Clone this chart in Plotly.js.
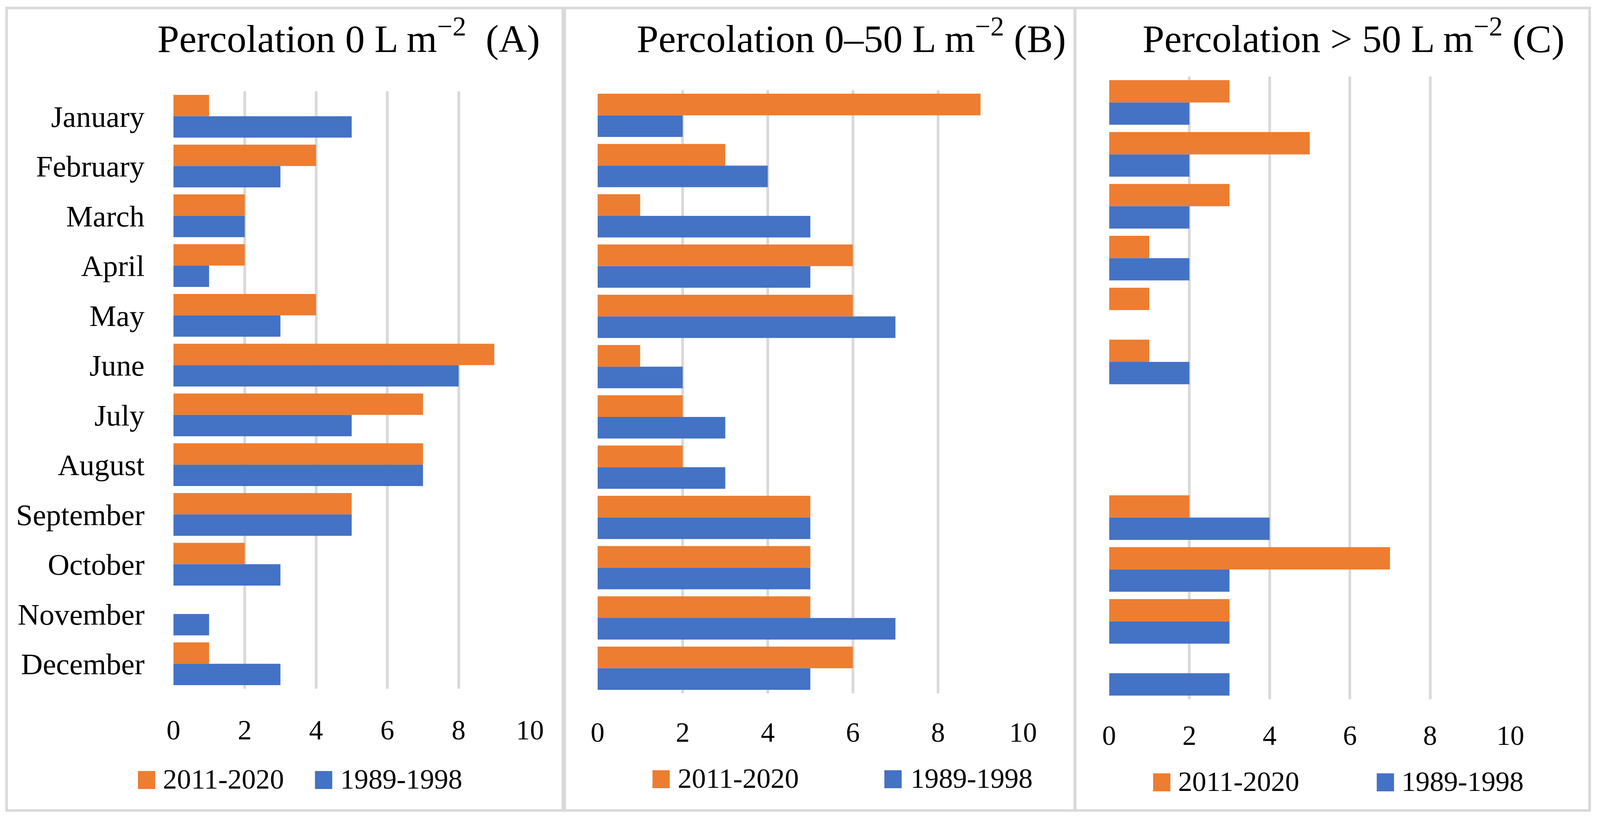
<!DOCTYPE html>
<html>
<head>
<meta charset="utf-8">
<script src="https://cdn.plot.ly/plotly-3.0.1.min.js"></script>
<style>html,body{margin:0;padding:0;background:#fff;overflow:hidden;}#chart{position:absolute;left:0;top:0;}</style>
</head>
<body>
<div id="chart"></div>
<script>
// ---- data ----
const months = ['January','February','March','April','May','June','July','August','September','October','November','December'];
const seriesNames = ['2011-2020', '1989-1998'];
const seriesColors = ['#ED7D31', '#4472C4'];
const a2011 = [1, 4, 2, 2, 4, 9, 7, 7, 5, 2, 0, 1];
const a1989 = [5, 3, 2, 1, 3, 8, 5, 7, 5, 3, 1, 3];
const b2011 = [9, 3, 1, 6, 6, 1, 2, 2, 5, 5, 5, 6];
const b1989 = [2, 4, 5, 5, 7, 2, 3, 3, 5, 5, 7, 5];
const c2011 = [3, 5, 3, 1, 1, 1, 0, 0, 2, 7, 3, 0];
const c1989 = [2, 2, 2, 2, 0, 2, 0, 0, 4, 3, 3, 3];
const xTicks = [0, 2, 4, 6, 8, 10];
const panelTitles = [
  'Percolation 0 L m<sup>\u22122</sup>  (A)',
  'Percolation 0\u201350 L m<sup>\u22122</sup> (B)',
  'Percolation > 50 L m<sup>\u22122</sup> (C)'
];

// ---- geometry: reference pixel frame 4257 x 2103, scaled to the viewport ----
const RW = 4257, RH = 2103;
const W = window.innerWidth || RW, H = window.innerHeight || RH;
const SX = W / RW, SY = H / RH;
const S = Math.min(SX, SY);
const px = v => v / RW;
const py = v => 1 - v / RH;
const sz = v => v * S;
const FONT = '"Liberation Serif", "Times New Roman", serif';

const panels = [
  {vals: [a2011, a1989], x0: 461.5, x1: 1410, y0: 234, y1: 1764, labels: true, standoff: 58,
   titleX: 928, legSw: [367, 838], legTx: [433, 905], legY: 1998},
  {vals: [b2011, b1989], x0: 1590, x1: 2722, y0: 231, y1: 1776, labels: false, standoff: 52,
   titleX: 2265, legSw: [1736, 2353], legTx: [1803, 2423], legY: 1996},
  {vals: [c2011, c1989], x0: 2951, x1: 4018.5, y0: 196, y1: 1791, labels: false, standoff: 45,
   titleX: 3601, legSw: [3068, 3663], legTx: [3134, 3729], legY: 2004}
];

const traces = [];
const layout = {
  width: W, height: H,
  margin: {l: 0, r: 0, t: 0, b: 0, pad: 0},
  paper_bgcolor: '#ffffff', plot_bgcolor: 'rgba(0,0,0,0)',
  barmode: 'group', bargap: 0.14, bargroupgap: 0,
  showlegend: false,
  font: {family: FONT, color: '#000000'},
  annotations: [], shapes: []
};

panels.forEach((p, i) => {
  const n = i === 0 ? '' : String(i + 1);
  p.vals.forEach((v, s) => {
    traces.push({
      type: 'bar', orientation: 'h',
      x: v, y: months, name: seriesNames[s],
      marker: {color: seriesColors[s], line: {width: 0}},
      xaxis: 'x' + n, yaxis: 'y' + n,
      hoverinfo: 'x+y+name'
    });
  });
  layout['xaxis' + n] = {
    domain: [px(p.x0), px(p.x1)], anchor: 'y' + n,
    range: [0, 10], tickmode: 'array', tickvals: xTicks, ticktext: xTicks.map(String),
    showgrid: true, gridcolor: '#d9d9d9', gridwidth: sz(7),
    zeroline: false, showline: false, ticks: '',
    ticklabelstandoff: Math.round(p.standoff * SY),
    tickfont: {family: FONT, size: sz(74), color: '#000000'},
    fixedrange: true
  };
  layout['yaxis' + n] = {
    domain: [py(p.y1), py(p.y0)], anchor: 'x' + n,
    type: 'category', autorange: 'reversed',
    showgrid: false, zeroline: false, showline: false, ticks: '',
    showticklabels: p.labels,
    ticklabelstandoff: Math.round(76 * SX),
    tickfont: {family: FONT, size: sz(80), color: '#000000'},
    fixedrange: true
  };
  // panel title
  layout.annotations.push({
    xref: 'paper', yref: 'paper', x: px(p.titleX), y: py(92),
    xanchor: 'center', yanchor: 'middle', showarrow: false,
    text: panelTitles[i], font: {family: FONT, size: sz(104), color: '#000000'}
  });
  // legend (swatches + labels)
  seriesNames.forEach((name, s) => {
    layout.shapes.push({
      type: 'rect', xref: 'paper', yref: 'paper',
      x0: px(p.legSw[s]), x1: px(p.legSw[s] + 46),
      y0: py(p.legY + 23), y1: py(p.legY - 23),
      fillcolor: seriesColors[s], line: {width: 0}
    });
    layout.annotations.push({
      xref: 'paper', yref: 'paper', x: px(p.legTx[s] - 2), y: py(p.legY - 2),
      xanchor: 'left', yanchor: 'middle', showarrow: false,
      text: name, font: {family: FONT, size: sz(75), color: '#000000'}
    });
  });
});

// frame: outer border and panel dividers
layout.shapes.push({
  type: 'rect', xref: 'paper', yref: 'paper',
  x0: px(17.5), x1: px(4229.5), y0: py(2076), y1: py(20.5),
  line: {color: '#d9d9d9', width: sz(7)}, fillcolor: 'rgba(0,0,0,0)'
});
layout.shapes.push({
  type: 'line', xref: 'paper', yref: 'paper',
  x0: px(1500), x1: px(1500), y0: py(2076), y1: py(20.5),
  line: {color: '#d9d9d9', width: sz(12)}
});
layout.shapes.push({
  type: 'line', xref: 'paper', yref: 'paper',
  x0: px(2860), x1: px(2860), y0: py(2076), y1: py(20.5),
  line: {color: '#d9d9d9', width: sz(8)}
});

Plotly.newPlot('chart', traces, layout, {displayModeBar: false, responsive: false});
</script>
</body>
</html>
